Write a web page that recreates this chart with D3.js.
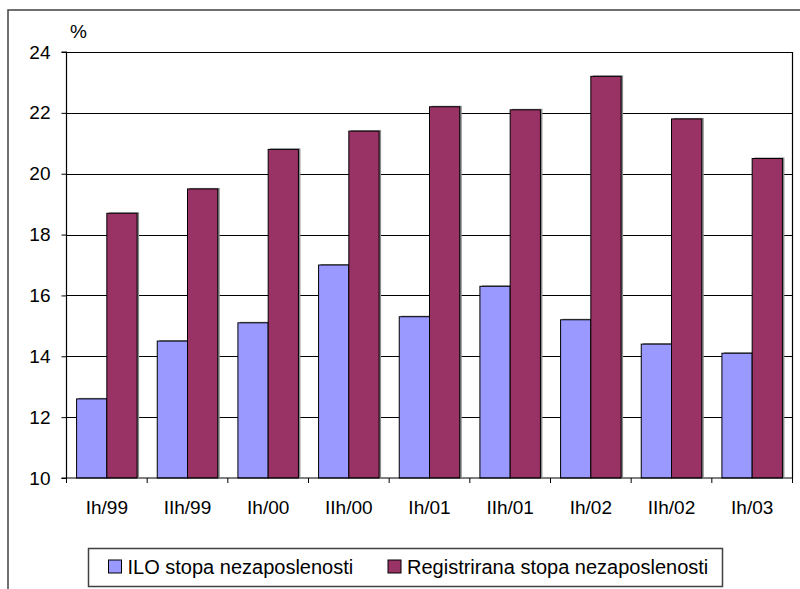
<!DOCTYPE html>
<html>
<head>
<meta charset="utf-8">
<script src="https://cdn.jsdelivr.net/npm/d3@7/dist/d3.min.js"></script>
<style>
  html, body { margin: 0; padding: 0; background: #fff; }
  svg { display: block; }
  text { font-family: "Liberation Sans", Arial, sans-serif; fill: #000; }
</style>
</head>
<body>
<svg id="chart" width="800" height="589"></svg>
<script>
const categories = ["Ih/99", "IIh/99", "Ih/00", "IIh/00", "Ih/01", "IIh/01", "Ih/02", "IIh/02", "Ih/03"];
const iloValues = [12.6, 14.5, 15.1, 17.0, 15.3, 16.3, 15.2, 14.4, 14.1];
const regValues = [18.7, 19.5, 20.8, 21.4, 22.2, 22.1, 23.2, 21.8, 20.5];
const yTicks = [10, 12, 14, 16, 18, 20, 22, 24];
const seriesNames = ["ILO stopa nezaposlenosti", "Registrirana stopa nezaposlenosti"];
const seriesColors = ["#9999FF", "#993366"];
const yUnit = "%";

(function () {
const svg = d3.select("#chart");
const pLeft = 66.5, pRight = 792.5, pTop = 52, pBottom = 478;

// outer chart frame (extends beyond the window)
svg.append("rect").attr("x", 8).attr("y", 10).attr("width", 900).attr("height", 700)
  .attr("fill", "none").attr("stroke", "#404040").attr("stroke-width", 1.5);

const x = d3.scaleBand().domain(categories).range([pLeft, pRight]).paddingInner(0.25).paddingOuter(0.125);
const xs = d3.scaleBand().domain([0, 1]).range([0, x.bandwidth()]);
const y = d3.scaleLinear().domain([10, 24]).range([pBottom, pTop]);

// gridlines
svg.append("g").selectAll("line").data(yTicks.filter(t => t > 10 && t < 24)).join("line")
  .attr("x1", pLeft).attr("x2", pRight)
  .attr("y1", d => Math.round(y(d)) + 0.5).attr("y2", d => Math.round(y(d)) + 0.5)
  .attr("stroke", "#000").attr("stroke-width", 1);

// plot area border (top & right)
svg.append("path")
  .attr("d", `M${pLeft},${pTop + 0.5}H${pRight}V${pBottom}`)
  .attr("fill", "none").attr("stroke", "#000").attr("stroke-width", 1.2);

const rows = categories.map((c, i) => [
  { c, s: 0, v: iloValues[i] },
  { c, s: 1, v: regValues[i] }
]).flat();

// shadows
svg.append("g").selectAll("rect").data(rows).join("rect")
  .attr("x", d => x(d.c) + xs(d.s) + 2)
  .attr("y", d => y(d.v) - 1)
  .attr("width", xs.bandwidth())
  .attr("height", d => y(10) - y(d.v))
  .attr("fill", "#8a8a8a");

// bars
svg.append("g").selectAll("rect").data(rows).join("rect")
  .attr("x", d => x(d.c) + xs(d.s))
  .attr("y", d => y(d.v))
  .attr("width", xs.bandwidth())
  .attr("height", d => y(10) - y(d.v))
  .attr("fill", d => seriesColors[d.s])
  .attr("stroke", "#000").attr("stroke-width", 1);

// y axis
const yAxis = d3.axisLeft(y).tickValues(yTicks).tickSize(5).tickPadding(11).tickFormat(d3.format("d"));
const gy = svg.append("g").attr("transform", `translate(${pLeft},0)`).call(yAxis);
gy.select(".domain").attr("stroke", "#000").attr("stroke-width", 1.2).attr("d", `M-5,${pTop}H0V${pBottom}`);
gy.selectAll(".tick line").attr("stroke", "#000");
gy.selectAll(".tick text").style("font-size", "19px").attr("font-family", "Liberation Sans, Arial, sans-serif").attr("fill", "#000");

// x axis baseline & ticks at band boundaries
svg.append("line").attr("x1", pLeft - 5).attr("x2", pRight).attr("y1", pBottom).attr("y2", pBottom)
  .attr("stroke", "#000").attr("stroke-width", 1.2);
const step = x.step();
svg.append("g").selectAll("line").data(d3.range(categories.length + 1)).join("line")
  .attr("x1", i => pLeft + i * step).attr("x2", i => pLeft + i * step)
  .attr("y1", pBottom).attr("y2", pBottom + 5)
  .attr("stroke", "#000");
svg.append("g").selectAll("text").data(categories).join("text")
  .attr("x", d => x(d) + x.bandwidth() / 2)
  .attr("y", 513.5)
  .attr("text-anchor", "middle")
  .style("font-size", "19px")
  .text(d => d);

// unit label
svg.append("text").attr("x", 70).attr("y", 38).style("font-size", "19px").text(yUnit);

// legend
svg.append("rect").attr("x", 88.5).attr("y", 548.5).attr("width", 634).attr("height", 38)
  .attr("fill", "#fff").attr("stroke", "#404040").attr("stroke-width", 1.5);
const legX = [108.5, 388];
const lg = svg.append("g").selectAll("g").data(seriesNames).join("g")
  .attr("transform", (d, i) => `translate(${legX[i]},560)`);
lg.append("rect").attr("width", 13).attr("height", 13)
  .attr("fill", (d, i) => seriesColors[i]).attr("stroke", "#000").attr("stroke-width", 1);
lg.append("text").attr("x", 19).attr("y", 13.5).style("font-size", "20px").text(d => d);
})();
</script>
</body>
</html>
